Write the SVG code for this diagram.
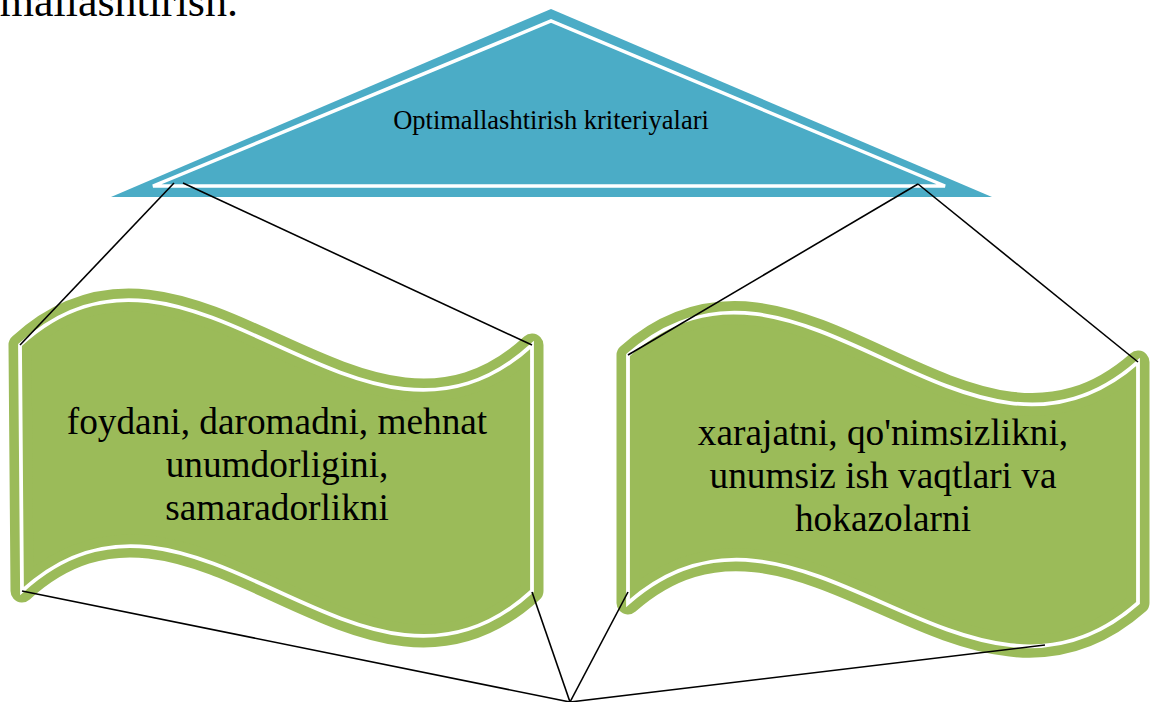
<svg xmlns="http://www.w3.org/2000/svg" width="1151" height="702" viewBox="0 0 1151 702">
<style>
.tri{fill:#4BACC6;}
.triin{fill:none;stroke:#FFFFFF;stroke-width:3.5;stroke-linejoin:miter;}
.wave{fill:#9BBB59;stroke:#9BBB59;stroke-width:23;stroke-linejoin:round;}
.wavein{fill:none;stroke:#FFFFFF;stroke-width:3.8;stroke-linejoin:miter;}
.lbl{font-family:"Liberation Serif","Times New Roman",serif;fill:#000000;text-anchor:middle;}
.big{font-size:37.3px;}
.conn{stroke:#000000;stroke-width:1.6;fill:none;}
</style>
<text x="238" y="16" font-family="Liberation Serif, Times New Roman, serif" font-size="44" text-anchor="end" fill="#000">optimallashtirish.</text>
<g id="node-triangle">
<polygon class="tri" points="111,197 551,9 992,197"/>
<polygon class="triin" points="153,186 551,21 945,186"/>
<text class="lbl" x="551" y="129" font-size="26.5">Optimallashtirish kriteriyalari</text>
</g>
<g id="node-left">
<path class="wave" d="M20,345 C190,189 362,501 532,345 L532,591 C362,747 192,435 22,591 Z"/>
<path class="wavein" d="M20,345 C190,189 362,501 532,345 L532,591 C362,747 192,435 22,591 Z"/>
<text class="lbl big" x="277" y="434">foydani, daromadni, mehnat</text>
<text class="lbl big" x="277" y="477">unumdorligini,</text>
<text class="lbl big" x="277" y="520">samaradorlikni</text>
</g>
<g id="node-right">
<path class="wave" d="M628,355 C798,205 968,512 1138,362 L1138,603 C968,753 798,453 628,603 Z"/>
<path class="wavein" d="M628,355 C798,205 968,512 1138,362 L1138,603 C968,753 798,453 628,603 Z"/>
<text class="lbl big" x="883" y="445">xarajatni, qo'nimsizlikni,</text>
<text class="lbl big" x="883" y="488">unumsiz ish vaqtlari va</text>
<text class="lbl big" x="883" y="531">hokazolarni</text>
</g>
<g id="connectors">
<line class="conn" x1="174" y1="183" x2="20" y2="345"/>
<line class="conn" x1="183" y1="183" x2="532" y2="345"/>
<line class="conn" x1="918" y1="184" x2="628" y2="355"/>
<line class="conn" x1="918" y1="184" x2="1138" y2="362"/>
<line class="conn" x1="22" y1="591" x2="570" y2="702"/>
<line class="conn" x1="532" y1="592" x2="570" y2="702"/>
<line class="conn" x1="628" y1="592" x2="570" y2="702"/>
<line class="conn" x1="1045" y1="645" x2="570" y2="702"/>
</g>
</svg>
